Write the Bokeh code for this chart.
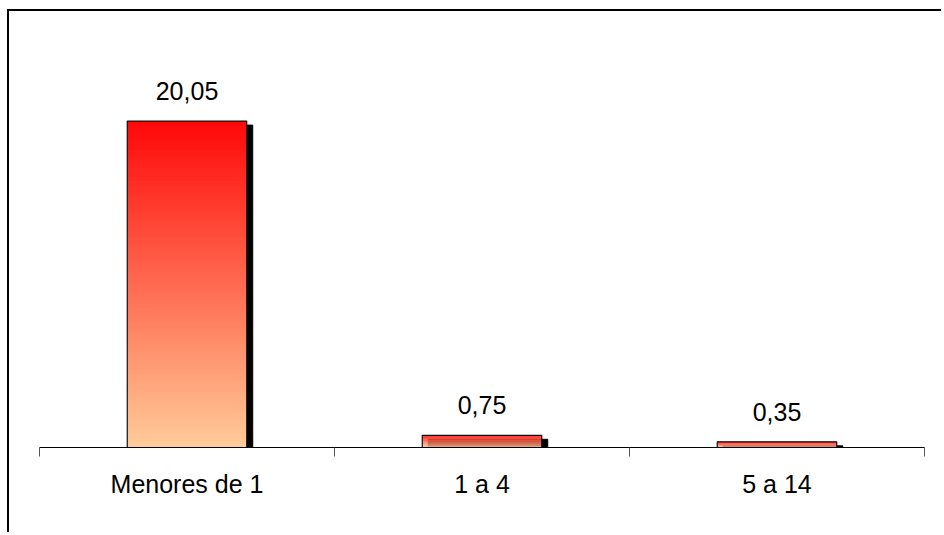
from bokeh.plotting import figure
from bokeh.models import Range1d, FixedTicker, ColumnDataSource, LabelSet
from bokeh.core.properties import value
from bokeh.embed import file_html
from bokeh.resources import INLINE

categories = ["Menores de 1", "1 a 4", "5 a 14"]
values = [20.05, 0.75, 0.35]
value_labels = ["20,05", "0,75", "0,35"]

FONT = "Liberation Sans"
W, H = 934, 523
FRAME_L, FRAME_R, FRAME_T, FRAME_B = 30, 19, 29, 87
Y_MAX = 25.0
BAR_W = 0.405

p = figure(width=W, height=H, output_backend="svg", toolbar_location=None,
           x_range=Range1d(0, len(categories)), y_range=Range1d(0, Y_MAX),
           min_border_left=FRAME_L, min_border_right=FRAME_R,
           min_border_top=FRAME_T, min_border_bottom=FRAME_B)
p.styles = {"border-left": "2px solid black", "border-top": "2px solid black",
            "margin-left": "7px", "margin-top": "9px"}
p.outline_line_color = None
p.grid.visible = False
p.yaxis.visible = False
p.background_fill_color = "white"
p.border_fill_color = "white"

xc = [i + 0.5 for i in range(len(categories))]
frame_w = W - FRAME_L - FRAME_R
frame_h = H - FRAME_T - FRAME_B
px_x = len(categories) / frame_w
px_y = Y_MAX / frame_h

# shadow
p.quad(left=[x - BAR_W / 2 + 6 * px_x for x in xc], right=[x + BAR_W / 2 + 6 * px_x for x in xc],
       bottom=[0] * len(values), top=[max(v - 4 * px_y, 0) for v in values],
       fill_color="black", line_color="black")

# gradient fill: bottom peach -> top red
N = 120
bot_rgb = (255, 204, 153)
top_rgb = (255, 8, 8)
gl, gr, gb, gt, gc = [], [], [], [], []
for x, v in zip(xc, values):
    for k in range(N):
        f0 = k / N
        f1 = min((k + 1.6) / N, 1.0)
        fm = (k + 0.5) / N
        col = tuple(int(round(b + (t - b) * fm)) for b, t in zip(bot_rgb, top_rgb))
        gl.append(x - BAR_W / 2)
        gr.append(x + BAR_W / 2)
        gb.append(v * f0)
        gt.append(v * f1)
        gc.append("#%02x%02x%02x" % col)
p.quad(left=gl, right=gr, bottom=gb, top=gt, fill_color=gc, line_color=None)

# outline
p.vbar(x=xc, top=values, width=BAR_W, fill_color=None, line_color="#111111", line_width=1.2)

src = ColumnDataSource(dict(x=xc, y=values, t=value_labels))
p.add_layout(LabelSet(x="x", y="y", text="t", source=src, text_align="center",
                      text_baseline="alphabetic", y_offset=21, text_font=value(FONT),
                      text_font_size=value("25px"), text_color=value("black")))

ax = p.xaxis[0]
ax.ticker = FixedTicker(ticks=xc, minor_ticks=list(range(len(categories) + 1)))
ax.major_label_overrides = {x: c for x, c in zip(xc, categories)}
ax.major_tick_line_color = None
ax.major_tick_out = 0
ax.major_tick_in = 0
ax.minor_tick_out = 9
ax.minor_tick_in = 0
ax.minor_tick_line_color = "#555555"
ax.axis_line_color = "black"
ax.axis_line_width = 1
ax.major_label_text_font = FONT
ax.major_label_text_font_size = "25px"
ax.major_label_text_color = "black"
ax.major_label_standoff = 13

open("out.html", "w").write(file_html(p, INLINE))
